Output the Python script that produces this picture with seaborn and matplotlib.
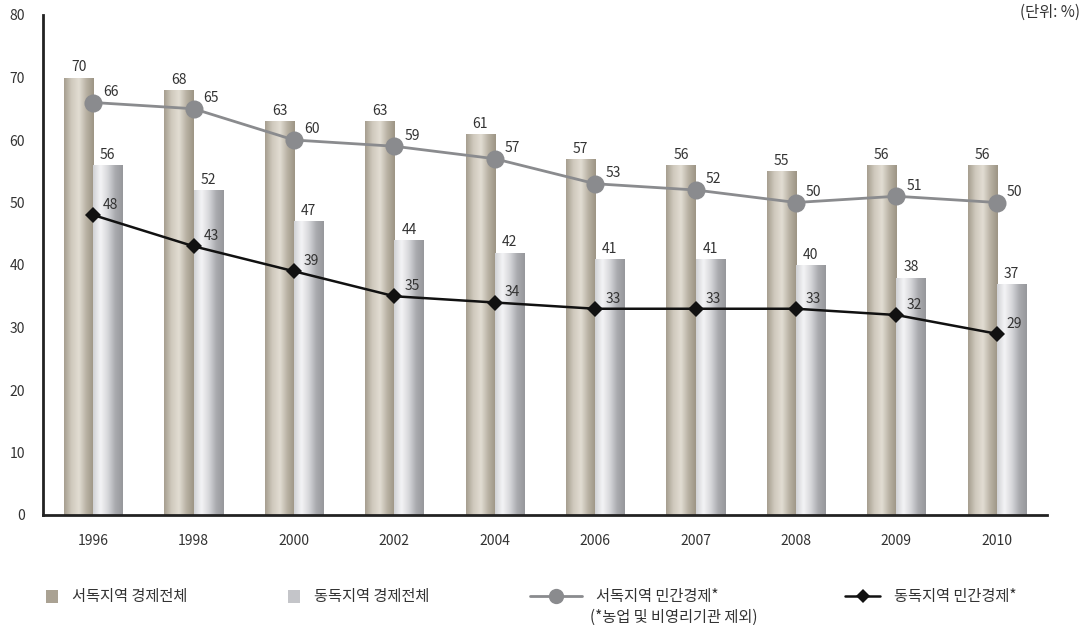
import numpy as np
import pandas as pd
import matplotlib
matplotlib.use("Agg")
import matplotlib.pyplot as plt
from matplotlib.lines import Line2D
from matplotlib.patches import Patch
from matplotlib.colors import LinearSegmentedColormap
import seaborn as sns

years = ["1996", "1998", "2000", "2002", "2004", "2006", "2007", "2008", "2009", "2010"]
west_total = [70, 68, 63, 63, 61, 57, 56, 55, 56, 56]
east_total = [56, 52, 47, 44, 42, 41, 41, 40, 38, 37]
west_private = [66, 65, 60, 59, 57, 53, 52, 50, 51, 50]
east_private = [48, 43, 39, 35, 34, 33, 33, 33, 32, 29]

lbl_wt = "서독지역 경제전체"
lbl_et = "동독지역 경제전체"
lbl_wp = "서독지역 민간경제*"
lbl_wp_note = "(*농업 및 비영리기관 제외)"
lbl_ep = "동독지역 민간경제*"

sns.set_style("white")
plt.rcParams['font.family'] = ['Noto Sans CJK KR', 'DejaVu Sans']

fig = plt.figure(figsize=(10.87, 6.25), dpi=100)
ax = fig.add_axes([43/1087, 1-515/625, 1004/1087, 500/625])

df = pd.DataFrame({
    "year": years * 2,
    "value": west_total + east_total,
    "series": [lbl_wt] * len(years) + [lbl_et] * len(years),
})
sns.barplot(data=df, x="year", y="value", hue="series", order=years,
            hue_order=[lbl_wt, lbl_et], width=0.58,
            palette=["#aaa293", "#c4c5c9"], ax=ax, legend=False,
            linewidth=0, saturation=1)

cmap_w = LinearSegmentedColormap.from_list("w", ["#a59d8e", "#cfc9bd", "#e2ddd3", "#b8b1a3", "#9c9484"])
cmap_e = LinearSegmentedColormap.from_list("e", ["#d0d1d4", "#f4f4f6", "#d6d7da", "#a9aaae", "#96979b"])
grad = np.linspace(0, 1, 256).reshape(1, -1)
n = len(years)
for i, p in enumerate(ax.patches):
    cm = cmap_w if i < n else cmap_e
    x0, y0 = p.get_x(), p.get_y()
    w, h = p.get_width(), p.get_height()
    im = ax.imshow(grad, cmap=cm, aspect="auto", extent=[x0, x0 + w, y0, y0 + h],
                   zorder=p.get_zorder() + 0.1, interpolation="bicubic")
    im.set_clip_path(p)
    val = west_total[i] if i < n else east_total[i - n]
    ax.text(x0 + w / 2, y0 + h + 0.5, f"{val}", ha="center", va="bottom",
            fontsize=10, color="#333333")

xs = np.arange(n)
sns.lineplot(x=xs, y=west_private, ax=ax, color="#8a8b8e", linewidth=2,
             marker="o", markersize=13, markeredgewidth=0, zorder=5)
sns.lineplot(x=xs, y=east_private, ax=ax, color="#111111", linewidth=1.8,
             marker="D", markersize=8, markeredgewidth=0, zorder=6)
for i in range(n):
    ax.text(xs[i] + 0.1, west_private[i] + 0.6, f"{west_private[i]}", ha="left",
            va="bottom", fontsize=10, color="#333333", zorder=7)
    ax.text(xs[i] + 0.1, east_private[i] + 0.5, f"{east_private[i]}", ha="left",
            va="bottom", fontsize=10, color="#333333", zorder=7)

ax.set_xlim(-0.5, n - 0.5)
ax.set_ylim(0, 80)
ax.set_yticks(np.arange(0, 81, 10))
ax.set_xticks(xs)
ax.set_xticklabels(years)
ax.set_xticks(np.arange(-0.5, n - 0.5, 1), minor=True)
ax.tick_params(axis="x", which="major", length=0, pad=14, labelsize=10, labelcolor="#333333")
ax.tick_params(axis="x", which="minor", length=7, width=2, color="#222222", direction="out")
ax.tick_params(axis="y", which="major", length=7, width=1.5, color="#222222",
               direction="out", labelsize=10, labelcolor="#333333", pad=6)
ax.set_xlabel("")
ax.set_ylabel("")
for s in ["top", "right"]:
    ax.spines[s].set_visible(False)
for s in ["left", "bottom"]:
    ax.spines[s].set_color("#222222")
    ax.spines[s].set_linewidth(2)

fig.text(1080/1087, 1-12/625, "(단위: %)", ha="right", va="center", fontsize=11, color="#333333")

items = [
    (Patch(facecolor="#aaa293", edgecolor="none"), lbl_wt, 46, 0.8),
    (Patch(facecolor="#c4c5c9", edgecolor="none"), lbl_et, 288, 0.8),
    (Line2D([], [], color="#8a8b8e", linewidth=2, marker="o", markersize=11, markeredgewidth=0),
     lbl_wp, 530, 3.4),
    (Line2D([], [], color="#111111", linewidth=1.8, marker="D", markersize=7, markeredgewidth=0),
     lbl_ep, 845, 2.3),
]
for h, lab, xpx, hl in items:
    lg = fig.legend([h], [lab], loc="center left", bbox_to_anchor=(xpx/1087, 1-597/625),
                    frameon=False, fontsize=11, handlelength=hl, handleheight=0.9,
                    handletextpad=0.9, borderpad=0, borderaxespad=0, labelcolor="#333333")
fig.text(590/1087, 1-617/625, lbl_wp_note, ha="left", va="center", fontsize=11, color="#333333")

fig.savefig("out.png", dpi=100)
